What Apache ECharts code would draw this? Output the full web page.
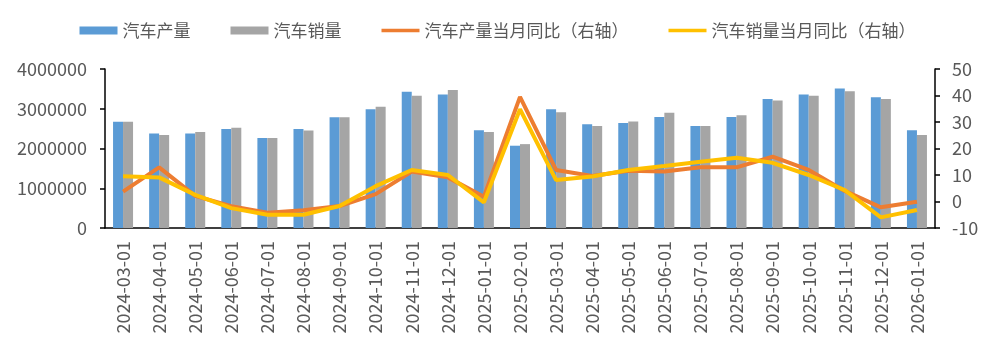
<!DOCTYPE html>
<html>
<head>
<meta charset="utf-8">
<script src="https://cdn.jsdelivr.net/npm/echarts@6/dist/echarts.min.js"></script>
<style>
html, body { margin: 0; padding: 0; background: #fff; }
#chart { width: 995px; height: 354px; }
</style>
</head>
<body>
<div id="chart"></div>
<script>
var months = ['2024-03-01', '2024-04-01', '2024-05-01', '2024-06-01', '2024-07-01', '2024-08-01',
  '2024-09-01', '2024-10-01', '2024-11-01', '2024-12-01', '2025-01-01', '2025-02-01',
  '2025-03-01', '2025-04-01', '2025-05-01', '2025-06-01', '2025-07-01', '2025-08-01',
  '2025-09-01', '2025-10-01', '2025-11-01', '2025-12-01', '2026-01-01']

// 汽车产量 / 汽车销量 (辆)
var production = [2674000, 2380000, 2380000, 2490000, 2264000, 2490000, 2785000, 2985000,
  3430000, 3360000, 2460000, 2070000, 2985000, 2610000, 2640000, 2790000,
  2566000, 2790000, 3245000, 3360000, 3510000, 3290000, 2460000]
var sales = [2674000, 2340000, 2415000, 2520000, 2264000, 2450000, 2785000, 3050000,
  3330000, 3470000, 2415000, 2110000, 2910000, 2566000, 2680000, 2900000,
  2566000, 2835000, 3210000, 3330000, 3440000, 3245000, 2340000]

// 当月同比 (%)，右轴
var prodYoY = [3.7, 12.9, 2.1, -1.8, -4.2, -3.3, -1.7, 2.8, 11.3, 9.1, 1.8, 39.5,
  11.9, 9.6, 11.6, 11.3, 12.9, 12.9, 16.9, 11.9, 4.0, -2.2, -0.1]
var salesYoY = [9.5, 9.1, 2.5, -2.5, -5.0, -5.0, -1.7, 5.8, 11.9, 10.0, -0.3, 34.8,
  8.1, 9.4, 11.9, 13.4, 15.0, 16.5, 14.6, 10.0, 4.3, -6.0, -3.2]

var textColor = '#595959'
var font = 'Noto Sans CJK SC'
var lineIcon = 'path://M0,0 L38,0 L38,3.5 L0,3.5 Z'

var chart = echarts.init(document.getElementById('chart'))
chart.setOption({
  animation: false,
  textStyle: { fontFamily: font },
  legend: {
    top: 17,
    left: 'center',
    itemWidth: 38,
    itemHeight: 8,
    itemGap: 40,
    textStyle: { color: textColor, fontSize: 17, fontFamily: font },
    data: [
      { name: '汽车产量', icon: 'rect' },
      { name: '汽车销量', icon: 'rect' },
      { name: '汽车产量当月同比（右轴）', icon: lineIcon },
      { name: '汽车销量当月同比（右轴）', icon: lineIcon }
    ]
  },
  grid: { left: 105, right: 60, top: 69, bottom: 126 },
  xAxis: {
    type: 'category',
    data: months,
    axisLine: { lineStyle: { color: '#000', width: 1.5 } },
    axisTick: { length: 5, lineStyle: { color: '#000', width: 1.5 } },
    axisLabel: { rotate: 90, color: textColor, fontSize: 18, margin: 13, fontFamily: font }
  },
  yAxis: [
    {
      type: 'value',
      min: 0,
      max: 4000000,
      interval: 1000000,
      splitLine: { show: false },
      axisLine: { show: true, lineStyle: { color: '#000', width: 1.5 } },
      axisTick: { show: true, length: 5, lineStyle: { color: '#000', width: 1.5 } },
      axisLabel: {
        color: textColor, fontSize: 18, margin: 18, fontFamily: font,
        formatter: function (v) { return String(v) }
      }
    },
    {
      type: 'value',
      min: -10,
      max: 50,
      interval: 10,
      splitLine: { show: false },
      axisLine: { show: true, lineStyle: { color: '#000', width: 1.5 } },
      axisTick: { show: true, length: 5, lineStyle: { color: '#000', width: 1.5 } },
      axisLabel: { color: textColor, fontSize: 18, margin: 17, fontFamily: font }
    }
  ],
  series: [
    {
      name: '汽车产量',
      type: 'bar',
      data: production,
      barWidth: 10,
      barGap: '0%',
      itemStyle: { color: '#5B9BD5' }
    },
    {
      name: '汽车销量',
      type: 'bar',
      data: sales,
      barWidth: 10,
      itemStyle: { color: '#A5A5A5' }
    },
    {
      name: '汽车产量当月同比（右轴）',
      type: 'line',
      yAxisIndex: 1,
      data: prodYoY,
      symbol: 'none',
      itemStyle: { color: '#ED7D31' },
      lineStyle: { color: '#ED7D31', width: 4 }
    },
    {
      name: '汽车销量当月同比（右轴）',
      type: 'line',
      yAxisIndex: 1,
      data: salesYoY,
      symbol: 'none',
      itemStyle: { color: '#FFC000' },
      lineStyle: { color: '#FFC000', width: 4 }
    }
  ]
})
</script>
</body>
</html>
